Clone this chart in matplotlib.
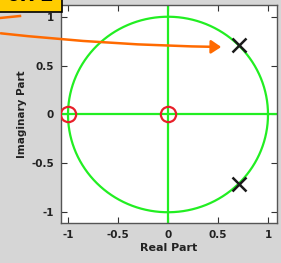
import numpy as np
import matplotlib
matplotlib.use('Agg')
import matplotlib.pyplot as plt
from matplotlib.patches import FancyArrowPatch

# pole-zero data
zeros_re = [-1.0, 0.0]
zeros_im = [0.0, 0.0]
poles_re = [0.707, 0.707]
poles_im = [0.707, -0.707]
ticks = [-1, -0.5, 0, 0.5, 1]
tick_labels = ['-1', '-0.5', '0', '0.5', '1']
box_text = '0.72'

W, H = 281, 263
fig = plt.figure(figsize=(W / 100, H / 100), dpi=100)
fig.patch.set_facecolor('#d6d6d6')

ax = fig.add_axes([61 / W, 1 - 223 / H, 216 / W, 218 / H])
ax.set_facecolor('white')

green = '#22ee22'
t = np.linspace(0, 2 * np.pi, 400)
ax.plot(np.cos(t), np.sin(t), color=green, lw=1.6, zorder=2)
ax.axhline(0, color=green, lw=1.6, zorder=2)
ax.axvline(0, color=green, lw=1.6, zorder=2)

ax.plot(zeros_re, zeros_im, 'o', ms=11, mfc='none', mec='#e8202a', mew=1.6, zorder=3)
ax.plot(poles_re, poles_im, 'x', ms=10, color='#1a1a1a', mew=1.8, zorder=3)

ax.set_xlim(-1.07, 1.09)
ax.set_ylim(-1.11, 1.12)
ax.set_xticks(ticks)
ax.set_xticklabels(tick_labels)
ax.set_yticks(ticks)
ax.set_yticklabels(tick_labels)
ax.tick_params(direction='in', length=4, width=0.8, top=True, right=True,
               labelsize=7.5, colors='#333333', pad=5)
for lab in ax.get_xticklabels() + ax.get_yticklabels():
    lab.set_fontweight('bold')
    lab.set_color('#222222')
for s in ax.spines.values():
    s.set_color('#555555')
    s.set_linewidth(1.0)

ax.set_xlabel('Real Part', fontsize=8, fontweight='bold', color='#222222', labelpad=2)
ax.set_ylabel('Imaginary Part', fontsize=7.5, fontweight='bold', color='#222222', labelpad=3)

# annotation (cut off at the top)
def px(x, y):
    return (x / W, 1 - y / H)

fig.patches.append(plt.Rectangle(px(-2, 12), 64 / W, 16 / H, transform=fig.transFigure,
                                 facecolor='#ffcc00', edgecolor='black', lw=1.2, zorder=5))
fig.text(px(30, 5)[0], px(30, 5)[1], box_text, fontsize=14, fontweight='bold',
         ha='center', va='bottom', color='black', zorder=6)

arrow = FancyArrowPatch(px(-2, 33), px(224, 47), transform=fig.transFigure,
                        connectionstyle='arc3,rad=0.025', arrowstyle='-|>,head_length=6,head_width=4',
                        color='#ff6a00', lw=1.8, zorder=6)
fig.patches.append(arrow)
fig.lines.append(plt.Line2D([0, 20 / W], [1 - 18 / H, 1 - 16 / H], transform=fig.transFigure,
                            color='#ff6a00', lw=1.8))

fig.savefig('out.png', dpi=100, facecolor=fig.get_facecolor())
